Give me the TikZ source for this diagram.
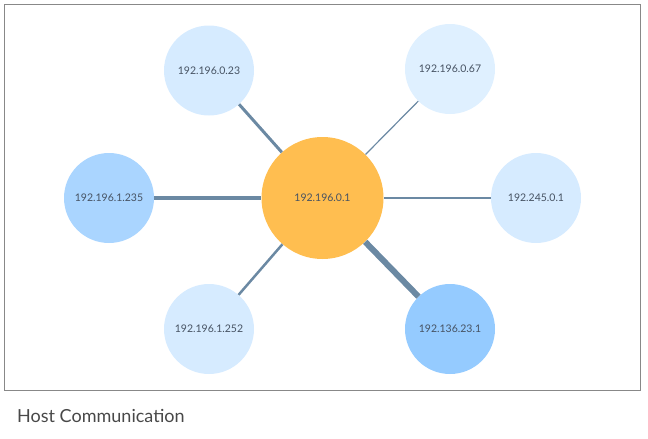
\documentclass[tikz,border=0pt]{standalone}
\usepackage{fontspec}
\setmainfont{Lato}
\definecolor{hub}{RGB}{255,190,80}
\definecolor{pale}{RGB}{214,235,255}
\definecolor{paler}{RGB}{223,240,255}
\definecolor{mid}{RGB}{170,213,255}
\definecolor{deep}{RGB}{149,203,255}
\definecolor{link}{RGB}{107,137,163}
\definecolor{label}{RGB}{70,82,98}
\definecolor{frame}{RGB}{136,136,136}
\definecolor{caption}{RGB}{72,72,72}
\begin{document}
\begin{tikzpicture}[x=1pt, y=-1pt,
    host/.style = {circle, inner sep=0pt, minimum size=90pt, text=label},
    link/.style = {draw=link},
    font=\fontsize{10.5pt}{12}\selectfont]
  \useasboundingbox (0, 0) rectangle (648, 439);
  \draw [frame, line width=1pt] (4.5, 4.5) rectangle (640.5, 390.5);

  % Hosts.
  \node at (322.5, 198) [host, fill=hub, minimum size=122pt, name=Hub] {192.196.0.1};
  \node at (209, 70.5) [host, fill=pale, name=HostA] {192.196.0.23};
  \node at (450, 69) [host, fill=paler, name=HostB] {192.196.0.67};
  \node at (109, 198) [host, fill=mid, name=HostC] {192.196.1.235};
  \node at (536, 198) [host, fill=pale, name=HostD] {192.245.0.1};
  \node at (209, 329) [host, fill=pale, name=HostE] {192.196.1.252};
  \node at (450, 329) [host, fill=deep, name=HostF] {192.136.23.1};

  % Traffic between hosts.
  \draw [link, line width=3pt] (HostA) to (Hub);
  \draw [link, line width=1.2pt] (HostB) to (Hub);
  \draw [link, line width=4.5pt] (HostC) to (Hub);
  \draw [link, line width=2pt] (HostD) to (Hub);
  \draw [link, line width=2.5pt] (HostE) to (Hub);
  \draw [link, line width=6pt] (HostF) to (Hub);

  % Caption.
  \node at (17, 422.7) [anchor=base west, inner sep=0pt, text=caption,
                        font=\fontsize{18pt}{20}\selectfont, name=Caption] {Host Communication};
\end{tikzpicture}
\end{document}
